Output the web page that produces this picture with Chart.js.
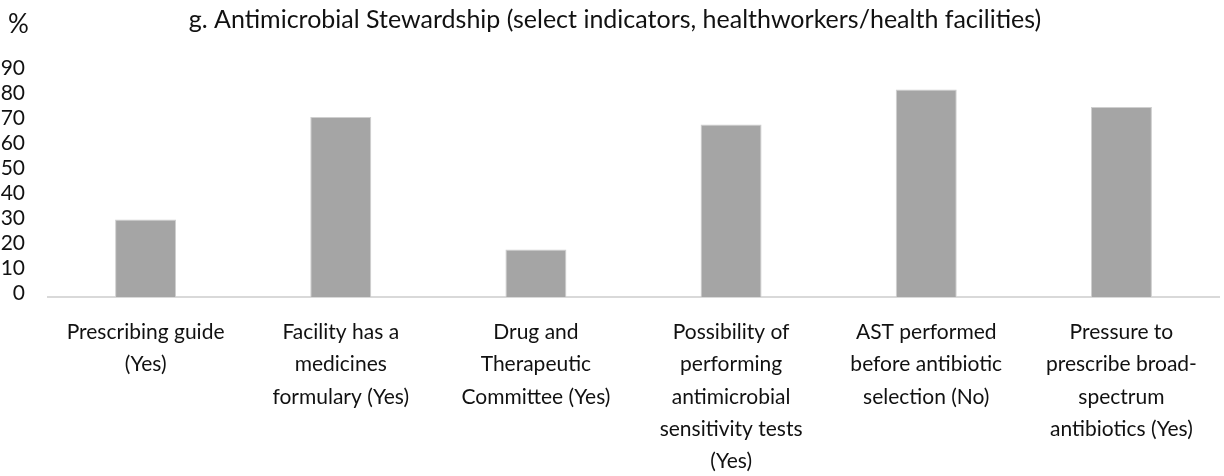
<!DOCTYPE html>
<html>
<head>
<meta charset="utf-8">
<script src="https://cdn.jsdelivr.net/npm/chart.js@4"></script>
<style>
  html, body { margin: 0; padding: 0; background: #fff; }
  #wrap { width: 1224px; height: 476px; position: relative; }
</style>
</head>
<body>
<div id="wrap"><canvas id="myChart"></canvas></div>
<script>
// categories (wrapped the same way as the original axis labels)
let labels = [
    ['Prescribing guide', '(Yes)'],
    ['Facility has a', 'medicines', 'formulary (Yes)'],
    ['Drug and', 'Therapeutic', 'Committee (Yes)'],
    ['Possibility of', 'performing', 'antimicrobial', 'sensitivity tests', '(Yes)'],
    ['AST performed', 'before antibiotic', 'selection (No)'],
    ['Pressure to', 'prescribe broad-', 'spectrum', 'antibiotics (Yes)']
];
let percentValues = [31, 72, 19, 69, 83, 76];
let yTicks = [0, 10, 20, 30, 40, 50, 60, 70, 80, 90];

let titleText = 'g. Antimicrobial Stewardship (select indicators, healthworkers/health facilities)';
let fontFam = 'Lato, "Open Sans", sans-serif';

// title and "%" unit drawn on top of the canvas
const headerText = {
    id: 'headerText',
    afterDraw(chart) {
        const ctx = chart.ctx;
        ctx.save();
        ctx.fillStyle = '#111';
        ctx.textBaseline = 'alphabetic';
        ctx.font = '26px ' + fontFam;
        ctx.textAlign = 'left';
        ctx.fillText('%', 8, 33);
        ctx.font = '25px ' + fontFam;
        ctx.textAlign = 'center';
        ctx.fillText(titleText, 615, 28);
        ctx.restore();
    }
};

const data = {
    labels: labels,
    datasets: [{
        data: percentValues,
        backgroundColor: '#a5a5a5',
        borderColor: '#cfcfcf',
        borderWidth: 1,
        barPercentage: 0.3125,
        categoryPercentage: 1
    }]
};

const config = {
    type: 'bar',
    data: data,
    options: {
        responsive: false,
        animation: false,
        layout: { padding: { top: 72, right: 5, left: 0, bottom: 0 } },
        plugins: {
            legend: { display: false },
            title: { display: false },
            tooltip: { enabled: false }
        },
        scales: {
            x: {
                grid: { display: false, drawTicks: false },
                border: { display: true, color: '#d9d9d9', width: 2 },
                ticks: {
                    color: '#111',
                    maxRotation: 0,
                    autoSkip: false,
                    padding: 19,
                    font: { family: fontFam, size: 21, lineHeight: '32.3px' }
                },
                afterFit(s) { s.height = 179; }
            },
            y: {
                min: 0,
                max: 90,
                grid: { display: false, drawTicks: false },
                border: { display: false },
                afterBuildTicks(s) { s.ticks = yTicks.map(v => ({ value: v })); },
                ticks: {
                    color: '#111',
                    autoSkip: false,
                    padding: 23,
                    labelOffset: -4,
                    font: { family: fontFam, size: 21 }
                },
                afterFit(s) { s.width = 48; }
            }
        }
    },
    plugins: [headerText]
};

const canvas = document.getElementById('myChart');
canvas.width = 1224;
canvas.height = 476;
const chart1 = new Chart(canvas.getContext('2d'), config);
</script>
</body>
</html>
